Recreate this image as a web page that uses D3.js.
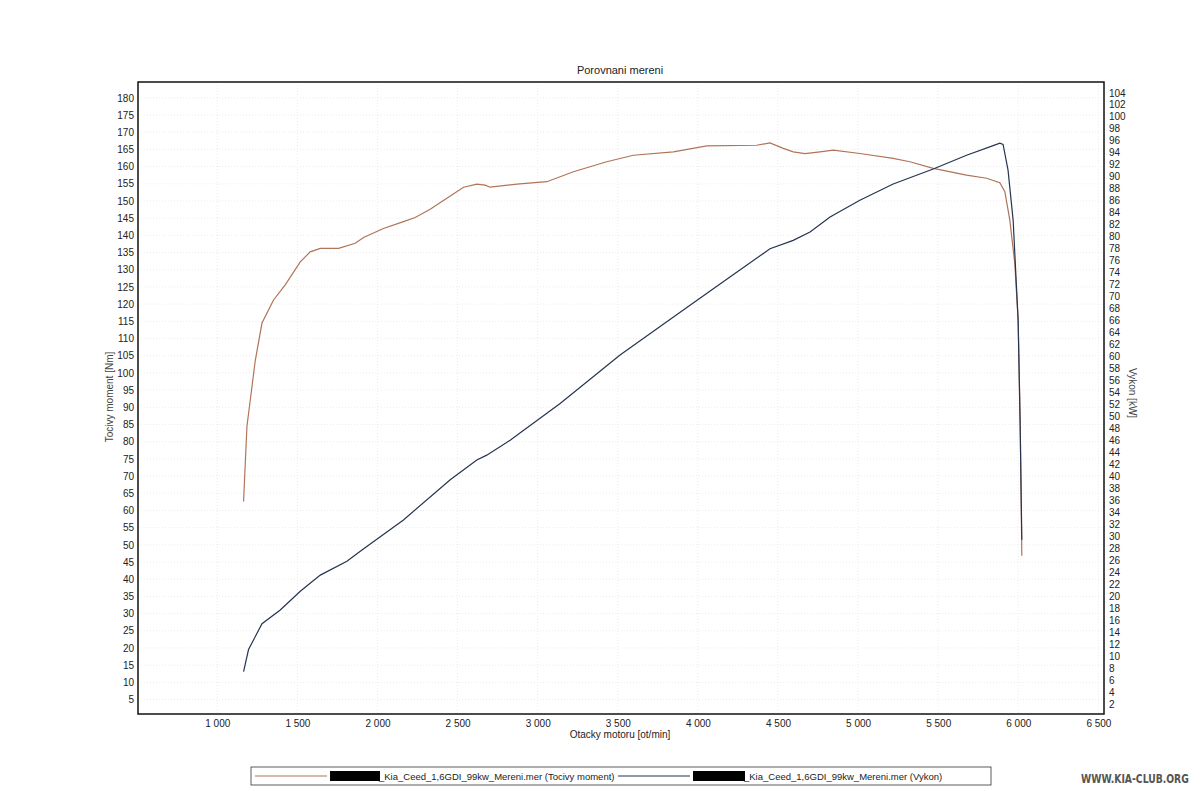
<!DOCTYPE html>
<html>
<head>
<meta charset="utf-8">
<script src="https://cdn.jsdelivr.net/npm/d3@7"></script>
<style>
  body { margin: 0; background: #fff; }
  svg { display: block; font-family: "Liberation Sans", Arial, sans-serif; }
</style>
</head>
<body>
<svg id="chart" width="1200" height="791"></svg>
<script>
// engine speed [ot/min] for each reading
var rpmTorque = [1164, 1185, 1237, 1279, 1351, 1424, 1518, 1580, 1643, 1757, 1861, 1913, 2037, 2162, 2235, 2329, 2433, 2537, 2620, 2672, 2703, 2870, 3057, 3223, 3431, 3597, 3847, 4055, 4367, 4450, 4533, 4595, 4668, 4762, 4845, 5011, 5219, 5323, 5469, 5677, 5802, 5885, 5916, 5947, 5978, 5999, 6012, 6022];
// Tocivy moment [Nm]
var torque = [62.6, 84.4, 103.6, 114.5, 121.2, 125.6, 132.3, 135.2, 136.2, 136.2, 137.7, 139.4, 142.0, 144.0, 145.2, 147.6, 150.8, 154.0, 154.9, 154.6, 154.0, 154.9, 155.6, 158.5, 161.4, 163.3, 164.3, 166.0, 166.2, 166.9, 165.3, 164.3, 163.8, 164.3, 164.8, 163.8, 162.4, 161.4, 159.5, 157.5, 156.6, 155.3, 152.7, 144.5, 131.9, 115.4, 86.2, 46.8];

var rpmPower = [1164, 1195, 1279, 1393, 1518, 1643, 1809, 1903, 2162, 2454, 2620, 2682, 2828, 2870, 3140, 3514, 3909, 4200, 4450, 4595, 4700, 4825, 5011, 5219, 5469, 5677, 5843, 5885, 5905, 5936, 5968, 5999, 6012, 6022];
// Vykon [kW]
var power = [7.5, 11.2, 15.5, 17.8, 20.9, 23.6, 25.9, 27.8, 32.8, 39.5, 42.8, 43.6, 46.1, 46.9, 52.2, 60.3, 67.8, 73.3, 78.0, 79.4, 80.8, 83.3, 86.1, 88.8, 91.3, 93.6, 95.2, 95.6, 95.4, 91.1, 82.7, 66.1, 47.8, 29.5];

var xTicks = d3.range(1000, 6501, 500);
var leftTicks = d3.range(5, 181, 5);
var rightTicks = d3.range(2, 105, 2);

var legendFile = "_Kia_Ceed_1,6GDI_99kw_Mereni.mer";

var torqueColor = "#b07458";
var powerColor = "#26344f";

var svg = d3.select("#chart");
var plotL = 138, plotR = 1104, plotT = 82, plotB = 714;

var x = d3.scaleLinear().domain([505, 6535]).range([plotL, plotR]);
var yL = d3.scaleLinear().domain([0.8, 184.6]).range([plotB, plotT]);
var yR = d3.scaleLinear().domain([0.45, 105.8]).range([plotB, plotT]);

var fmt = d3.formatLocale({decimal: ",", thousands: " ", grouping: [3], currency: ["", ""]}).format(",d");

// faint grid
var grid = svg.append("g").attr("stroke", "#ececec").attr("stroke-dasharray", "1,2");
grid.selectAll("line.h").data(leftTicks).enter().append("line")
    .attr("x1", plotL).attr("x2", plotR)
    .attr("y1", function(d) { return yL(d); }).attr("y2", function(d) { return yL(d); });
grid.selectAll("line.v").data(xTicks).enter().append("line")
    .attr("y1", plotT).attr("y2", plotB)
    .attr("x1", function(d) { return x(d); }).attr("x2", function(d) { return x(d); });

// axes (labels only, frame drawn separately)
var gL = svg.append("g").attr("transform", "translate(" + plotL + ",0)")
    .call(d3.axisLeft(yL).tickValues(leftTicks).tickSize(0).tickPadding(4));
var gR = svg.append("g").attr("transform", "translate(" + plotR + ",0)")
    .call(d3.axisRight(yR).tickValues(rightTicks).tickSize(0).tickPadding(5));
var gX = svg.append("g").attr("transform", "translate(0," + plotB + ")")
    .call(d3.axisBottom(x).tickValues(xTicks).tickFormat(fmt).tickSize(0).tickPadding(6));
[gL, gR, gX].forEach(function(g) {
    g.select(".domain").remove();
    g.selectAll("text").attr("font-size", 10).attr("fill", "#222")
        .attr("font-family", "'Liberation Sans', Arial, sans-serif");
});

// frame
svg.append("rect").attr("x", plotL).attr("y", plotT)
    .attr("width", plotR - plotL).attr("height", plotB - plotT)
    .attr("fill", "none").attr("stroke", "#111").attr("stroke-width", 1.5);

// curves
var lineT = d3.line().x(function(d, i) { return x(rpmTorque[i]); }).y(function(d) { return yL(d); });
var lineP = d3.line().x(function(d, i) { return x(rpmPower[i]); }).y(function(d) { return yR(d); });

svg.append("path").datum(torque).attr("d", lineT)
    .attr("fill", "none").attr("stroke", torqueColor).attr("stroke-width", 1.2);
svg.append("path").datum(power).attr("d", lineP)
    .attr("fill", "none").attr("stroke", powerColor).attr("stroke-width", 1.2);

// titles
svg.append("text").attr("x", 620).attr("y", 74).attr("text-anchor", "middle")
    .attr("font-size", 11).attr("fill", "#222").text("Porovnani mereni");
svg.append("text").attr("x", 620).attr("y", 738).attr("text-anchor", "middle")
    .attr("font-size", 10).attr("fill", "#222").text("Otacky motoru [ot/min]");
svg.append("text").attr("transform", "translate(113,397) rotate(-90)").attr("text-anchor", "middle")
    .attr("font-size", 10).attr("fill", "#444").text("Tocivy moment [Nm]");
svg.append("text").attr("transform", "translate(1129,393) rotate(90)").attr("text-anchor", "middle")
    .attr("font-size", 10).attr("fill", "#444").text("Vykon [kW]");

// legend
var leg = svg.append("g");
leg.append("rect").attr("x", 251).attr("y", 767).attr("width", 740).attr("height", 18)
    .attr("fill", "#fff").attr("stroke", "#333").attr("stroke-width", 0.8);
var items = [
    {color: torqueColor, x0: 255, name: "(Tocivy moment)"},
    {color: powerColor, x0: 618, name: "(Vykon)"}
];
items.forEach(function(it) {
    leg.append("line").attr("x1", it.x0).attr("x2", it.x0 + 72).attr("y1", 776).attr("y2", 776)
        .attr("stroke", it.color).attr("stroke-width", 1.2);
    leg.append("rect").attr("x", it.x0 + 75).attr("y", 771).attr("width", it.x0 === 255 ? 50 : 52).attr("height", 10)
        .attr("fill", "#000");
    leg.append("text").attr("x", it.x0 + (it.x0 === 255 ? 124 : 126)).attr("y", 779.5)
        .attr("font-size", 9.5).attr("fill", "#222")
        .text(legendFile + "  " + it.name);
});

// watermark, squeezed horizontally to fit the corner
var wm = svg.append("text").attr("x", 0).attr("y", 0)
    .attr("font-family", "'DejaVu Sans Condensed', 'DejaVu Sans', sans-serif")
    .attr("font-weight", "bold").attr("font-size", 12).attr("fill", "#555")
    .text("WWW.KIA-CLUB.ORG");
var wmW = wm.node().getComputedTextLength();
wm.attr("transform", "translate(1081,783) scale(" + (108 / wmW) + ",1)");
</script>
</body>
</html>
